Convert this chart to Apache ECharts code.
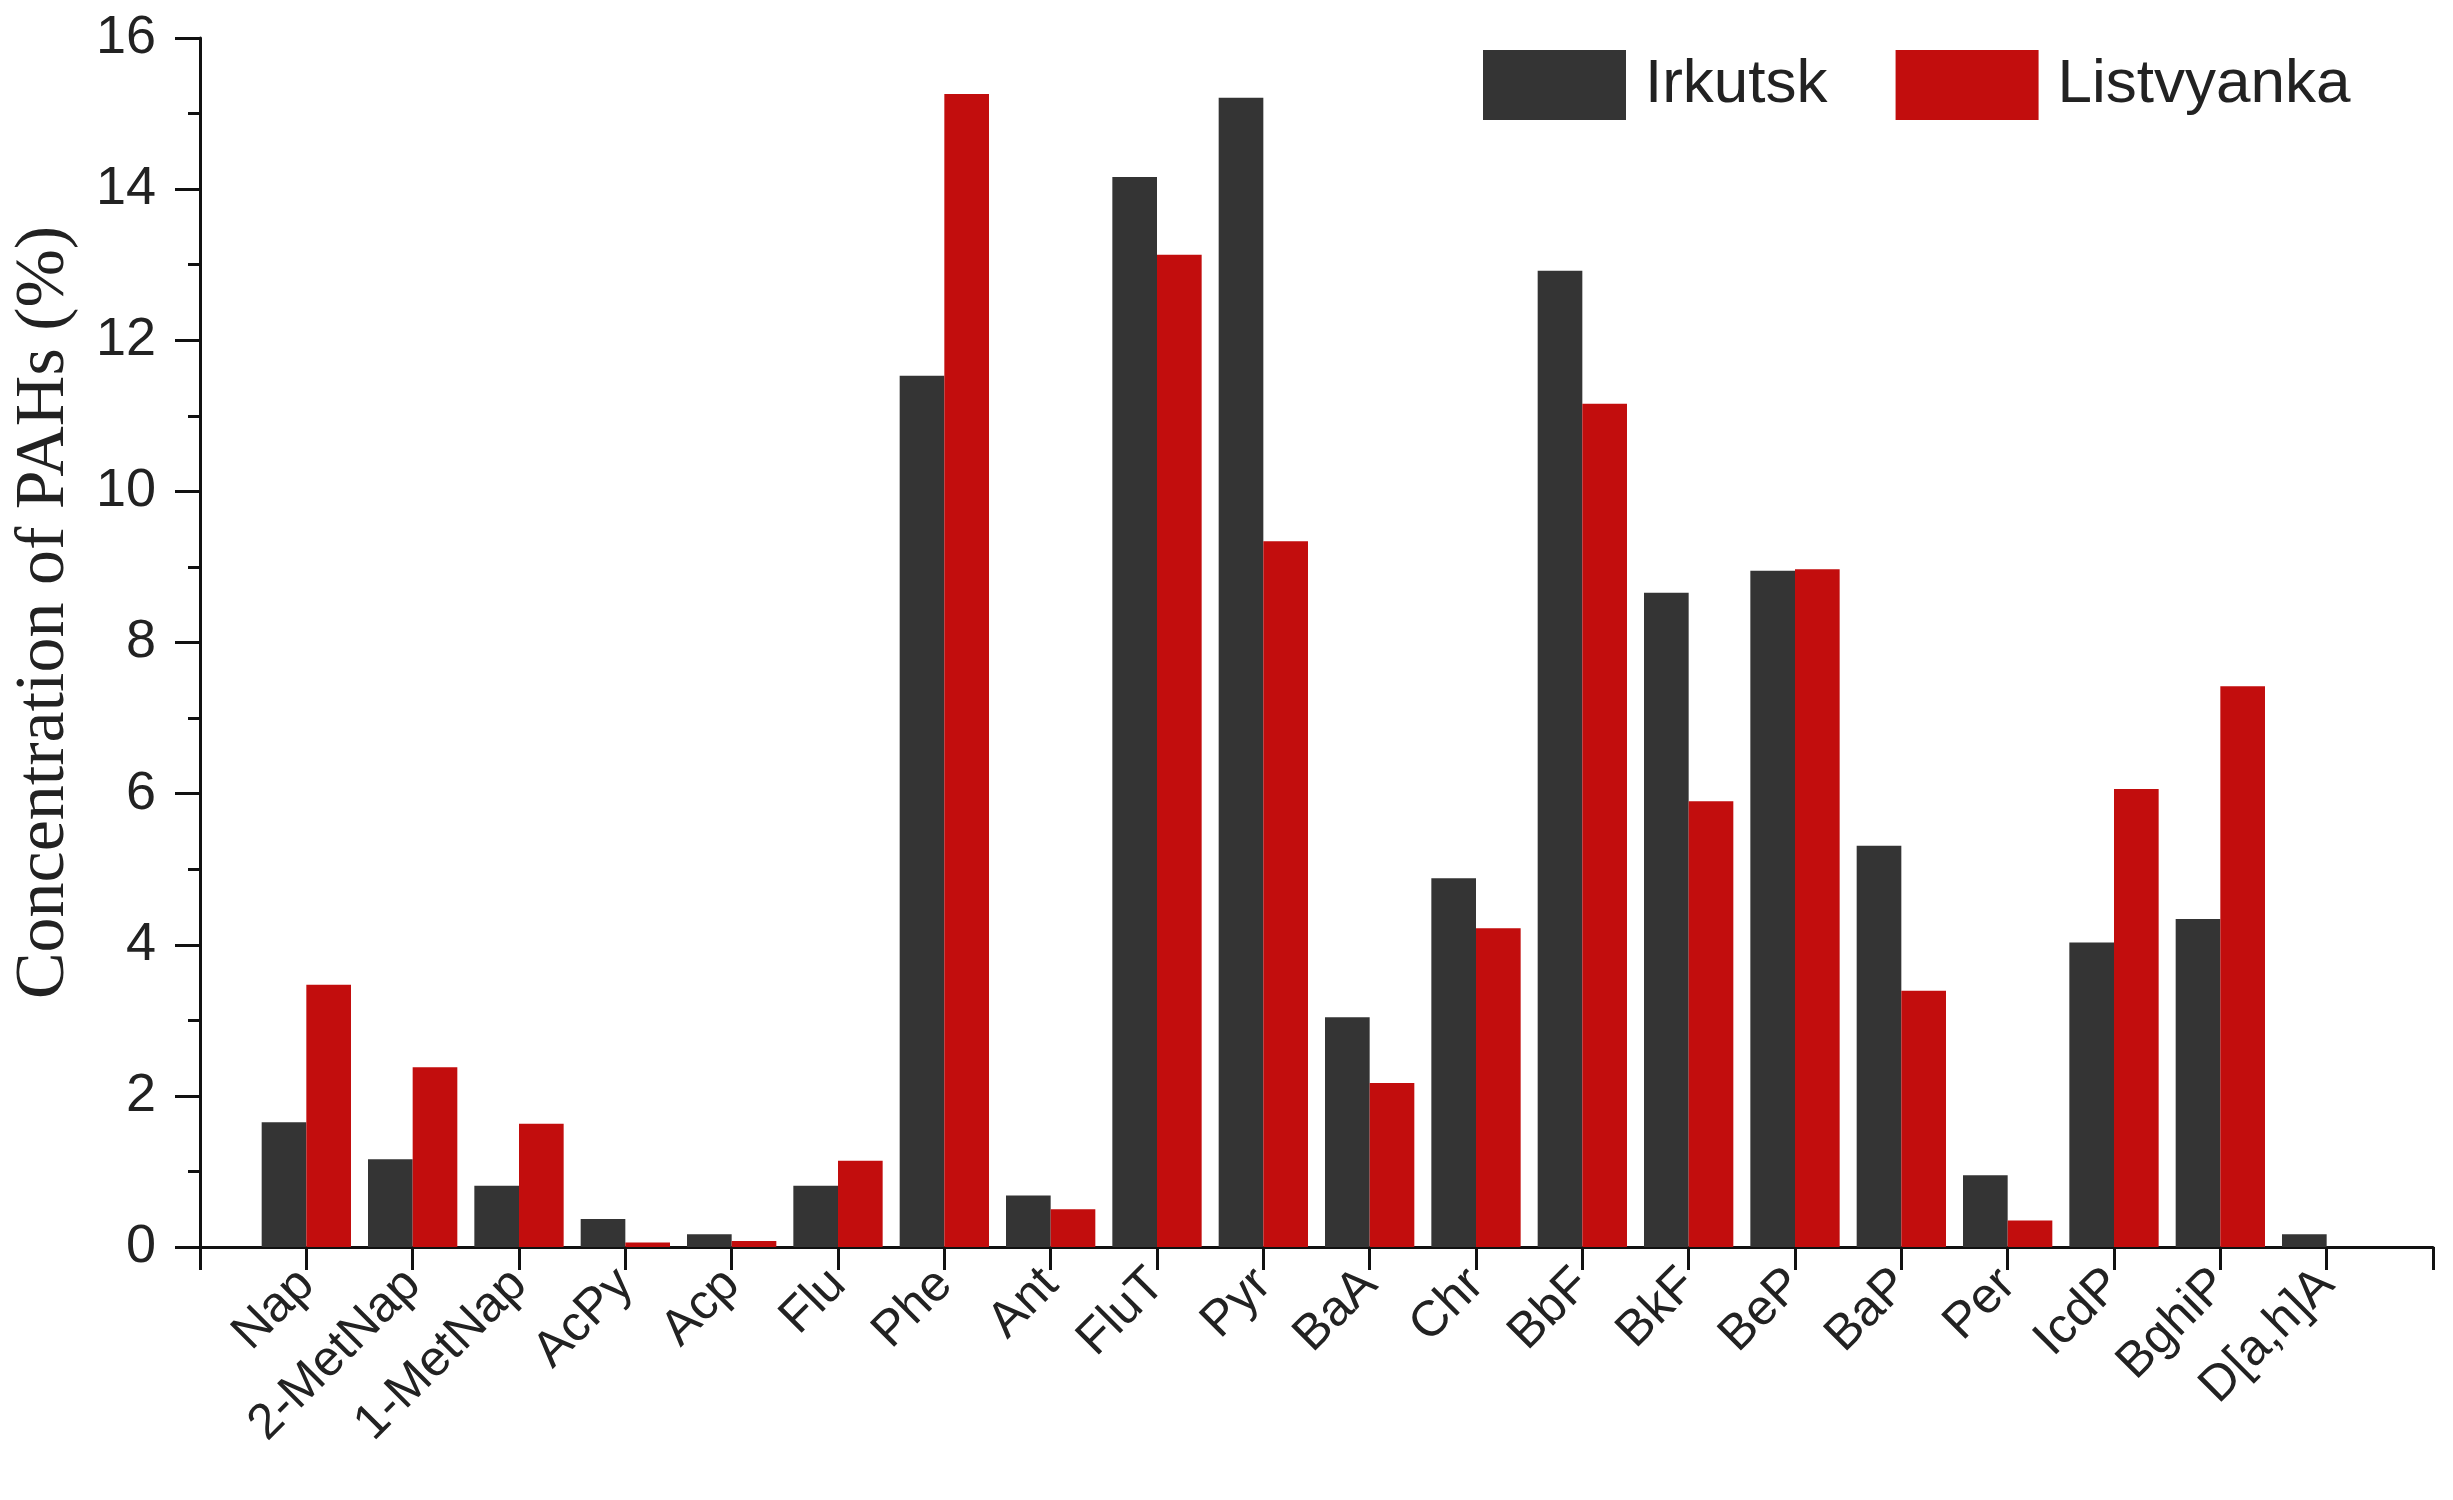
<!DOCTYPE html>
<html>
<head>
<meta charset="utf-8">
<script src="https://cdn.jsdelivr.net/npm/echarts@6/dist/echarts.min.js"></script>
<style>
  html, body { margin: 0; padding: 0; background: #fff; }
  #chart { width: 2453px; height: 1500px; }
</style>
</head>
<body>
<div id="chart"></div>
<script>
// PAH names along the x axis
const compounds = ['Nap', '2-MetNap', '1-MetNap', 'AcPy', 'Acp', 'Flu', 'Phe', 'Ant', 'FluT', 'Pyr',
  'BaA', 'Chr', 'BbF', 'BkF', 'BeP', 'BaP', 'Per', 'IcdP', 'BghiP', 'D[a,h]A'];

// concentration (%)
const irkutsk = [1.65, 1.16, 0.81, 0.37, 0.17, 0.81, 11.53, 0.68, 14.16, 15.21,
  3.04, 4.88, 12.92, 8.66, 8.95, 5.31, 0.95, 4.03, 4.34, 0.17];
const listvyanka = [3.47, 2.38, 1.63, 0.06, 0.08, 1.14, 15.26, 0.50, 13.13, 9.34,
  2.17, 4.22, 11.16, 5.90, 8.97, 3.39, 0.35, 6.06, 7.42, null];

const seriesNames = ['Irkutsk', 'Listvyanka'];
const yTicks = { min: 0, max: 16, step: 2 };

// empty slot at each end so the axis runs one step past the first and last bar
const axisCats = [''].concat(compounds, ['']);
const pad = arr => [null].concat(arr, [null]);

const chart = echarts.init(document.getElementById('chart'));

const option = {
  backgroundColor: '#fff',
  animation: false,
  grid: { left: 200, right: 20, top: 38, bottom: 253, containLabel: false },
  legend: {
    left: 1478,
    top: 45,
    itemWidth: 143,
    itemHeight: 70,
    itemGap: 68,
    icon: 'rect',
    textStyle: {
      fontFamily: 'Liberation Sans',
      fontSize: 62,
      color: '#222',
      padding: [0, 0, 0, 14]
    },
    data: seriesNames
  },
  xAxis: {
    type: 'category',
    data: axisCats,
    boundaryGap: false,
    axisLine: { lineStyle: { color: '#111', width: 3 } },
    axisTick: { show: true, interval: 0, length: 23, lineStyle: { color: '#111', width: 3 } },
    axisLabel: {
      interval: 0,
      rotate: 45,
      margin: 30,
      fontFamily: 'Liberation Sans',
      fontSize: 50,
      color: '#222'
    },
    splitLine: { show: false }
  },
  yAxis: {
    type: 'value',
    min: yTicks.min,
    max: yTicks.max,
    interval: yTicks.step,
    name: 'Concentration of PAHs (%)',
    nameLocation: 'middle',
    nameGap: 120,
    nameTextStyle: {
      fontFamily: 'Liberation Serif',
      fontSize: 70,
      color: '#222',
      padding: [0, 0, 0, 60]
    },
    axisLine: { show: true, lineStyle: { color: '#111', width: 3 } },
    axisTick: { show: true, length: 25, lineStyle: { color: '#111', width: 3 } },
    minorTick: { show: true, splitNumber: 2, length: 12, lineStyle: { color: '#111', width: 3 } },
    axisLabel: { margin: 44, fontFamily: 'Liberation Sans', fontSize: 54, color: '#222' },
    splitLine: { show: false }
  },
  series: [
    {
      name: seriesNames[0],
      type: 'bar',
      data: pad(irkutsk),
      barGap: '0%',
      barCategoryGap: '16%',
      itemStyle: { color: '#343434' }
    },
    {
      name: seriesNames[1],
      type: 'bar',
      data: pad(listvyanka),
      itemStyle: { color: '#c20d0d' }
    }
  ]
};

chart.setOption(option);
</script>
</body>
</html>
